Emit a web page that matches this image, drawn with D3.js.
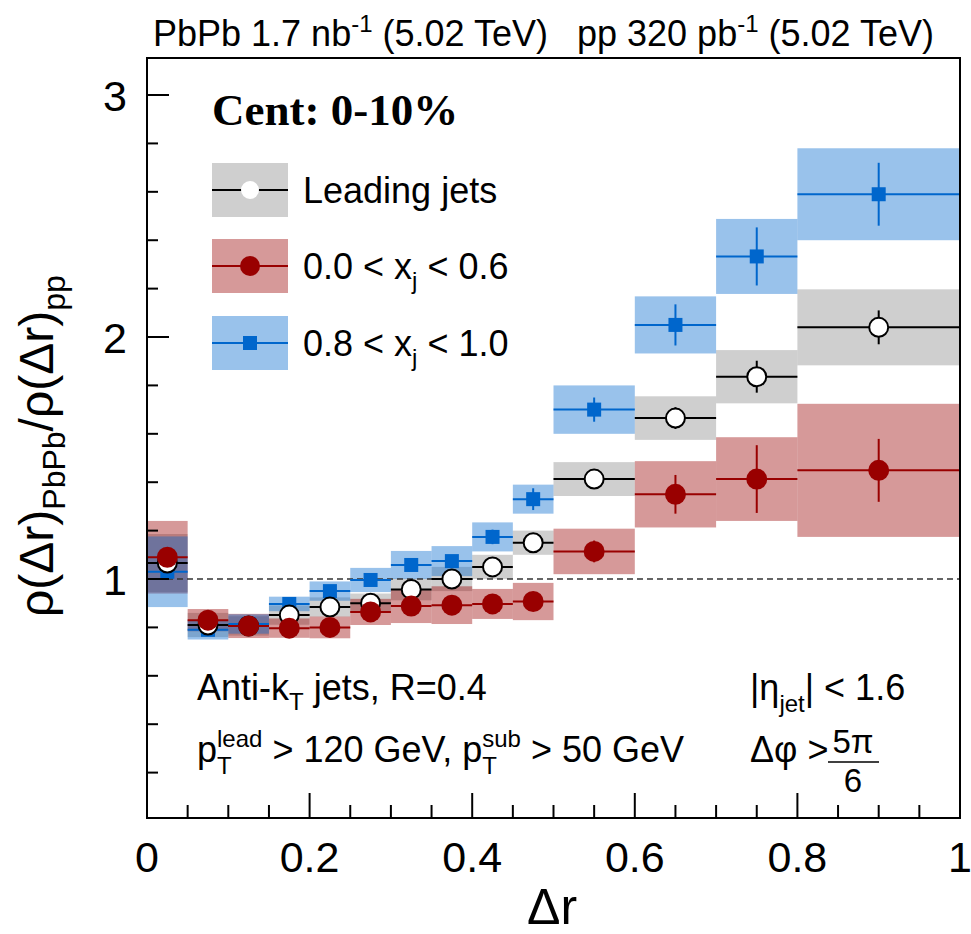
<!DOCTYPE html>
<html>
<head>
<meta charset="utf-8">
<script src="https://cdnjs.cloudflare.com/ajax/libs/d3/7.8.5/d3.min.js"></script>
<style>
  body { margin: 0; background: #fff; }
  text { font-family: "Liberation Sans", Arial, Helvetica, sans-serif; fill: #000; white-space: pre; }
</style>
</head>
<body>
<svg id="svg"></svg>
<script>

const width = 971;
const height = 934;

// bins in delta r
const binLo = [0, 0.05, 0.10, 0.15, 0.20, 0.25, 0.30, 0.35, 0.40, 0.45, 0.5, 0.6, 0.7, 0.8];
const binHi = [0.05, 0.10, 0.15, 0.20, 0.25, 0.30, 0.35, 0.40, 0.45, 0.50, 0.6, 0.7, 0.8, 1.0];

// leading jets
const leadVal  = [1.066, 0.81, 0.806, 0.851, 0.884, 0.90, 0.957, 1.0, 1.05, 1.15, 1.413, 1.665, 1.836, 2.04];
const leadStat = [0.01, 0.01, 0.01, 0.01, 0.01, 0.01, 0.01, 0.015, 0.02, 0.02, 0.03, 0.045, 0.066, 0.07];
const leadSys  = [0.12, 0.05, 0.04, 0.04, 0.04, 0.04, 0.045, 0.05, 0.05, 0.05, 0.07, 0.09, 0.11, 0.157];

// 0.0 < xj < 0.6
const redVal  = [1.09, 0.83, 0.806, 0.797, 0.80, 0.864, 0.888, 0.892, 0.897, 0.907, 1.114, 1.35, 1.413, 1.449];
const redStat = [0.02, 0.02, 0.015, 0.015, 0.015, 0.02, 0.02, 0.02, 0.02, 0.02, 0.045, 0.08, 0.14, 0.13];
const redSys  = [0.15, 0.046, 0.05, 0.04, 0.045, 0.054, 0.07, 0.078, 0.062, 0.077, 0.094, 0.137, 0.173, 0.275];

// 0.8 < xj < 1.0
const blueVal  = [1.03, 0.79, 0.814, 0.897, 0.95, 0.996, 1.058, 1.074, 1.174, 1.33, 1.70, 2.05, 2.333, 2.59];
const blueStat = [0.02, 0.02, 0.015, 0.015, 0.015, 0.02, 0.02, 0.025, 0.03, 0.045, 0.05, 0.085, 0.12, 0.13];
const blueSys  = [0.146, 0.04, 0.04, 0.03, 0.04, 0.05, 0.058, 0.062, 0.06, 0.06, 0.1, 0.118, 0.155, 0.19];

const xTicks = [0, 0.2, 0.4, 0.6, 0.8, 1];
const xTickLabels = ["0", "0.2", "0.4", "0.6", "0.8", "1"];
const yTicks = [1, 2, 3];

const frame = { left: 147, right: 960, top: 58, bottom: 818 };

const x = d3.scaleLinear().domain([0, 1]).range([frame.left, frame.right]);
const y = d3.scaleLinear().domain([0.0124, 3.153]).range([frame.bottom, frame.top]);

const svg = d3.select("#svg")
  .attr("width", width)
  .attr("height", height);

// lays out a run of text pieces, measuring each; "stack" puts a piece on top of the previous one
function rich(parent, x0, y0, parts, family, weight) {
  const g = parent.append("g");
  let cx = 0, startX = 0, prevW = 0;
  parts.forEach(p => {
    const t = g.append("text")
      .attr("y", y0 + (p.dy || 0))
      .attr("font-size", p.s)
      .text(p.t);
    if (family) t.style("font-family", family);
    if (weight) t.attr("font-weight", weight);
    if (p.stack) {
      t.attr("x", x0 + startX);
      const w = t.node().getComputedTextLength();
      cx = startX + Math.max(prevW, w);
    } else {
      t.attr("x", x0 + cx);
      startX = cx;
      prevW = t.node().getComputedTextLength();
      cx += prevW;
    }
  });
  return g;
}

const series = [
  { name: "lead", val: leadVal, stat: leadStat, sys: leadSys, box: "#888888", line: "#000000" },
  { name: "red", val: redVal, stat: redStat, sys: redSys, box: "#990000", line: "#990000" },
  { name: "blue", val: blueVal, stat: blueStat, sys: blueSys, box: "#0066cc", line: "#0066cc" }
];

const plot = svg.append("g");

// systematic boxes
series.forEach(s => {
  plot.append("g").selectAll("rect")
    .data(s.val)
    .join("rect")
    .attr("x", (d, i) => x(binLo[i]))
    .attr("width", (d, i) => x(binHi[i]) - x(binLo[i]))
    .attr("y", (d, i) => y(d + s.sys[i]))
    .attr("height", (d, i) => y(d - s.sys[i]) - y(d + s.sys[i]))
    .attr("fill", s.box)
    .attr("fill-opacity", 0.4);
});

// dashed reference at 1
plot.append("line")
  .attr("x1", x(0)).attr("x2", x(1))
  .attr("y1", y(1)).attr("y2", y(1))
  .attr("stroke", "#333")
  .attr("stroke-width", 1.6)
  .attr("stroke-dasharray", "6,4");

// error bars and markers: blue first, then leading, then red on top
function drawBars(s) {
  const g = plot.append("g").attr("stroke", s.line).attr("stroke-width", 2);
  g.selectAll("line.h")
    .data(s.val)
    .join("line")
    .attr("class", "h")
    .attr("x1", (d, i) => x(binLo[i])).attr("x2", (d, i) => x(binHi[i]))
    .attr("y1", d => y(d)).attr("y2", d => y(d));
  g.selectAll("line.v")
    .data(s.val)
    .join("line")
    .attr("class", "v")
    .attr("x1", (d, i) => x((binLo[i] + binHi[i]) / 2)).attr("x2", (d, i) => x((binLo[i] + binHi[i]) / 2))
    .attr("y1", (d, i) => y(d + s.stat[i])).attr("y2", (d, i) => y(d - s.stat[i]));
}

const [sLead, sRed, sBlue] = series;

drawBars(sBlue);
plot.append("g").selectAll("rect")
  .data(blueVal)
  .join("rect")
  .attr("x", (d, i) => x((binLo[i] + binHi[i]) / 2) - 7)
  .attr("y", d => y(d) - 7)
  .attr("width", 14).attr("height", 14)
  .attr("fill", "#0066cc");

drawBars(sLead);
plot.append("g").selectAll("circle")
  .data(leadVal)
  .join("circle")
  .attr("cx", (d, i) => x((binLo[i] + binHi[i]) / 2))
  .attr("cy", d => y(d))
  .attr("r", 9.5)
  .attr("fill", "#fff")
  .attr("stroke", "#000")
  .attr("stroke-width", 2);

drawBars(sRed);
plot.append("g").selectAll("circle")
  .data(redVal)
  .join("circle")
  .attr("cx", (d, i) => x((binLo[i] + binHi[i]) / 2))
  .attr("cy", d => y(d))
  .attr("r", 10.5)
  .attr("fill", "#990000");

// axes, ROOT style with ticks inside the frame
const xAxis = svg.append("g").attr("transform", `translate(0,${frame.bottom})`);
xAxis.selectAll("line")
  .data(d3.range(0, 21).map(i => i * 0.05))
  .join("line")
  .attr("x1", d => x(d)).attr("x2", d => x(d))
  .attr("y1", 0)
  .attr("y2", (d, i) => i % 4 === 0 ? -25 : -13)
  .attr("stroke", "#000").attr("stroke-width", 2);
xAxis.selectAll("text")
  .data(xTicks)
  .join("text")
  .attr("x", d => x(d))
  .attr("y", 54)
  .attr("text-anchor", "middle")
  .attr("font-size", 43)
  .text((d, i) => xTickLabels[i]);

const yAxis = svg.append("g").attr("transform", `translate(${frame.left},0)`);
yAxis.selectAll("line")
  .data(d3.range(1, 16).map(i => i * 0.2))
  .join("line")
  .attr("y1", d => y(d)).attr("y2", d => y(d))
  .attr("x1", 0)
  .attr("x2", (d, i) => (i + 1) % 5 === 0 ? 22 : 11)
  .attr("stroke", "#000").attr("stroke-width", 2);
yAxis.selectAll("text")
  .data(yTicks)
  .join("text")
  .attr("x", -20)
  .attr("y", d => y(d) + 16)
  .attr("text-anchor", "end")
  .attr("font-size", 43)
  .text(d => d);

svg.append("rect")
  .attr("x", frame.left).attr("y", frame.top)
  .attr("width", frame.right - frame.left)
  .attr("height", frame.bottom - frame.top)
  .attr("fill", "none")
  .attr("stroke", "#000")
  .attr("stroke-width", 2);

// axis titles
rich(svg, 527, 924, [{ t: "Δr", s: 50 }]);

const yTitle = svg.append("g").attr("transform", "translate(53,617) rotate(-90)");
rich(yTitle, 0, 0, [
  { t: "ρ(Δr)", s: 48 },
  { t: "PbPb", s: 32, dy: 12 },
  { t: "/ρ(Δr)", s: 48 },
  { t: "pp", s: 32, dy: 12 }
]);

// header
rich(svg, 153, 46, [
  { t: "PbPb 1.7 nb", s: 36 },
  { t: "-1", s: 24, dy: -14 },
  { t: " (5.02 TeV)", s: 36 }
]);
rich(svg, 577, 46, [
  { t: "pp 320 pb", s: 36 },
  { t: "-1", s: 24, dy: -14 },
  { t: " (5.02 TeV)", s: 36 }
]);

rich(svg, 212, 125, [{ t: "Cent: 0-10%", s: 45 }], "'Liberation Serif', 'Times New Roman', serif", "bold");

// legend
const legendRows = [
  { label: [{ t: "Leading jets", s: 36 }], s: sLead },
  { label: [{ t: "0.0 < x", s: 36 }, { t: "j", s: 24, dy: 10 }, { t: " < 0.6", s: 36 }], s: sRed },
  { label: [{ t: "0.8 < x", s: 36 }, { t: "j", s: 24, dy: 10 }, { t: " < 1.0", s: 36 }], s: sBlue }
];
const legendY = [190, 266, 343];
const legend = svg.append("g");
legendRows.forEach((r, i) => {
  const cy = legendY[i];
  legend.append("rect")
    .attr("x", 212).attr("y", cy - 27)
    .attr("width", 76).attr("height", 54)
    .attr("fill", r.s.box).attr("fill-opacity", 0.4);
  legend.append("line")
    .attr("x1", 212).attr("x2", 288)
    .attr("y1", cy).attr("y2", cy)
    .attr("stroke", r.s.line).attr("stroke-width", 2);
  if (r.s.name === "lead") {
    legend.append("circle").attr("cx", 250).attr("cy", cy).attr("r", 9).attr("fill", "#fff");
  } else if (r.s.name === "red") {
    legend.append("circle").attr("cx", 250).attr("cy", cy).attr("r", 10).attr("fill", "#990000");
  } else {
    legend.append("rect").attr("x", 243).attr("y", cy - 7).attr("width", 14).attr("height", 14).attr("fill", "#0066cc");
  }
  rich(legend, 303, cy + 13, r.label);
});

// cut annotations
rich(svg, 197, 700, [
  { t: "Anti-k", s: 36 },
  { t: "T", s: 24, dy: 10 },
  { t: " jets, R=0.4", s: 36 }
]);
rich(svg, 197, 762, [
  { t: "p", s: 36 },
  { t: "lead", s: 24, dy: -15 },
  { t: "T", s: 24, dy: 12, stack: true },
  { t: " > 120 GeV, p", s: 36 },
  { t: "sub", s: 24, dy: -15 },
  { t: "T", s: 24, dy: 12, stack: true },
  { t: " > 50 GeV", s: 36 }
]);
rich(svg, 750, 700, [
  { t: "|η", s: 36 },
  { t: "jet", s: 24, dy: 12 },
  { t: "| < 1.6", s: 36 }
]);
rich(svg, 750, 762, [{ t: "Δφ >", s: 36 }]);
svg.append("text").attr("x", 853).attr("y", 753).attr("text-anchor", "middle").attr("font-size", 33).text("5π");
svg.append("line").attr("x1", 828).attr("x2", 879).attr("y1", 762).attr("y2", 762).attr("stroke", "#000").attr("stroke-width", 1.5);
svg.append("text").attr("x", 853).attr("y", 792).attr("text-anchor", "middle").attr("font-size", 33).text("6");

</script>
</body>
</html>
